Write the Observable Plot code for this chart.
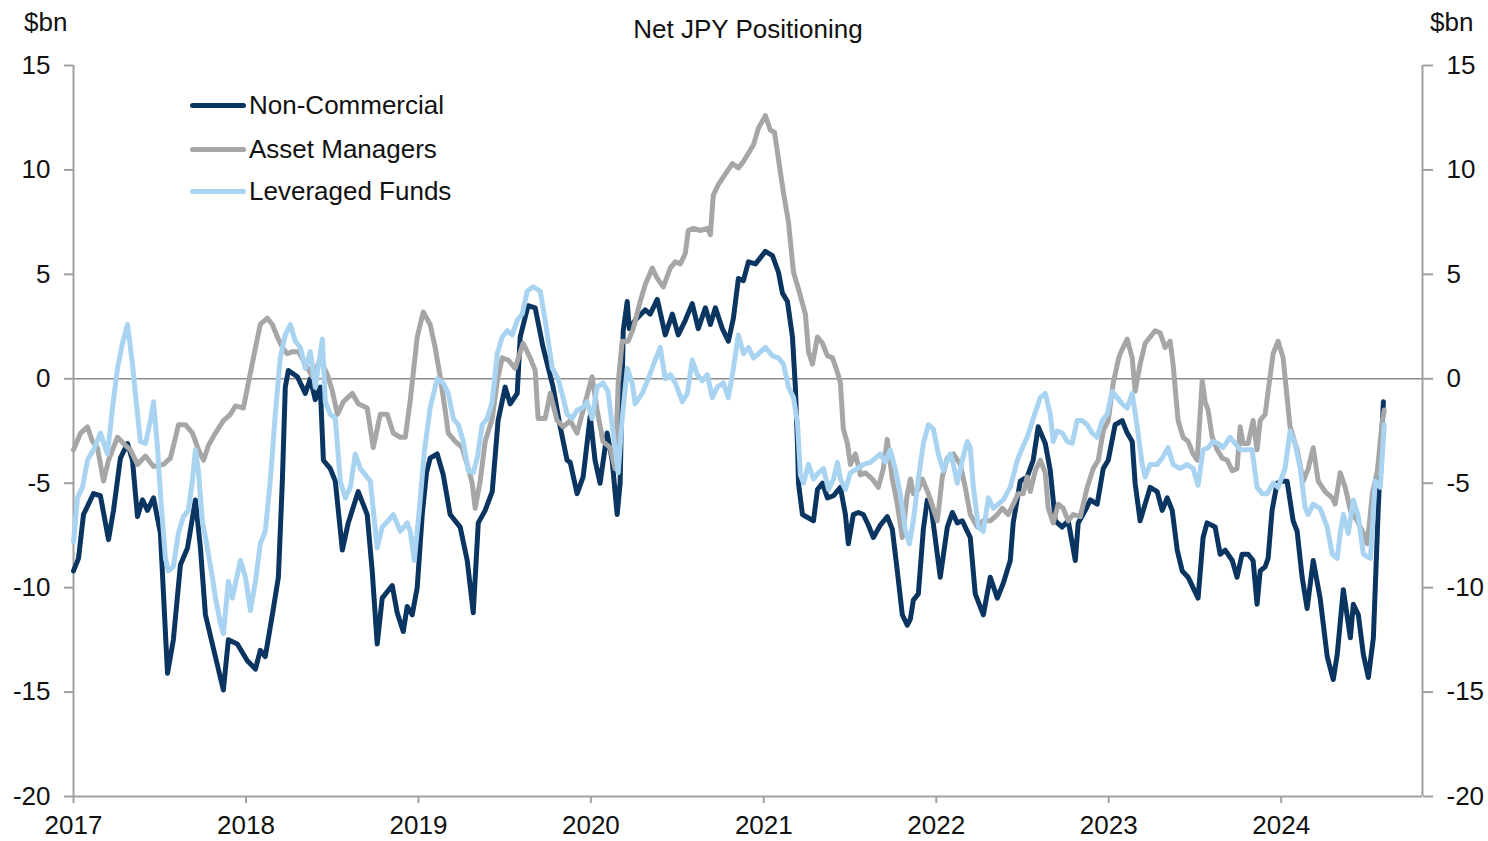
<!DOCTYPE html>
<html>
<head>
<meta charset="utf-8">
<script src="https://cdn.jsdelivr.net/npm/d3@7"></script>
<script src="https://cdn.jsdelivr.net/npm/@observablehq/plot@0.6"></script>
<style>
  body { margin: 0; background: #fff; font-family: "Liberation Sans", Arial, sans-serif; }
  #wrap { position: relative; width: 1488px; height: 841px; }
  .lbl { position: absolute; font-size: 26px; line-height: 26px; color: #111; white-space: nowrap; }
  .leg { position: absolute; display: flex; align-items: center; font-size: 26px; line-height: 26px; color: #111; white-space: nowrap; }
  .leg .sw { width: 56px; height: 5px; border-radius: 3px; margin-right: 3px; }
</style>
</head>
<body>
<div id="wrap"></div>
<script>
// ---------- chart values ----------
const chartTitle = "Net JPY Positioning";
const unitLabel = "$bn";
const seriesNames = ["Non-Commercial", "Asset Managers", "Leveraged Funds"];
const seriesColors = ["#0a3561", "#a6a6a6", "#a9d4f1"];
const yTicks = [-20, -15, -10, -5, 0, 5, 10, 15];
const yDomain = [-20, 15];
const xTickYears = [2017, 2018, 2019, 2020, 2021, 2022, 2023, 2024];
const xDomainYears = [2017.0, 2024.817];

// [decimal year, $bn]
const nonCommercial = [[2017.000,-9.2],[2017.029,-8.6],[2017.058,-6.5],[2017.116,-5.5],[2017.156,-5.6],[2017.203,-7.7],[2017.232,-6.3],[2017.272,-3.8],[2017.313,-3.1],[2017.342,-3.9],[2017.371,-6.6],[2017.400,-5.8],[2017.429,-6.3],[2017.464,-5.7],[2017.504,-7.4],[2017.545,-14.1],[2017.579,-12.5],[2017.620,-8.9],[2017.661,-8.1],[2017.707,-5.8],[2017.736,-8.1],[2017.765,-11.3],[2017.811,-12.9],[2017.869,-14.9],[2017.898,-12.5],[2017.950,-12.7],[2018.008,-13.5],[2018.055,-13.9],[2018.083,-13.0],[2018.112,-13.3],[2018.159,-11.0],[2018.188,-9.5],[2018.211,-4.9],[2018.228,-0.4],[2018.246,0.4],[2018.298,0.1],[2018.344,-0.7],[2018.373,0.0],[2018.402,-1.0],[2018.431,-0.4],[2018.449,-3.9],[2018.489,-4.3],[2018.518,-4.9],[2018.559,-8.2],[2018.593,-6.9],[2018.651,-5.4],[2018.703,-6.5],[2018.732,-9.2],[2018.761,-12.7],[2018.790,-10.5],[2018.848,-9.9],[2018.877,-11.2],[2018.912,-12.1],[2018.935,-10.9],[2018.964,-11.3],[2018.993,-10.0],[2019.022,-6.5],[2019.047,-4.5],[2019.068,-3.8],[2019.109,-3.6],[2019.144,-4.6],[2019.184,-6.5],[2019.242,-7.1],[2019.283,-8.7],[2019.318,-11.2],[2019.347,-6.9],[2019.387,-6.3],[2019.428,-5.4],[2019.462,-2.0],[2019.503,-0.4],[2019.532,-1.2],[2019.573,-0.7],[2019.590,2.0],[2019.636,3.5],[2019.677,3.4],[2019.723,1.5],[2019.781,-0.4],[2019.822,-2.3],[2019.862,-3.9],[2019.880,-4.0],[2019.920,-5.5],[2019.955,-4.7],[2019.996,-1.8],[2020.024,-3.9],[2020.053,-5.0],[2020.094,-2.6],[2020.123,-3.9],[2020.152,-6.5],[2020.169,-5.0],[2020.187,2.3],[2020.210,3.7],[2020.222,2.4],[2020.256,2.8],[2020.314,3.3],[2020.343,3.1],[2020.384,3.8],[2020.430,2.1],[2020.471,3.1],[2020.505,2.1],[2020.546,2.8],[2020.586,3.6],[2020.621,2.4],[2020.662,3.4],[2020.691,2.6],[2020.720,3.4],[2020.760,2.4],[2020.795,1.8],[2020.824,2.9],[2020.853,4.8],[2020.882,4.7],[2020.911,5.6],[2020.952,5.5],[2021.009,6.1],[2021.050,5.9],[2021.085,5.1],[2021.108,4.1],[2021.137,3.7],[2021.166,2.0],[2021.183,-0.4],[2021.195,-3.1],[2021.201,-5.0],[2021.224,-6.5],[2021.288,-6.8],[2021.311,-5.3],[2021.340,-5.0],[2021.369,-5.7],[2021.404,-5.6],[2021.444,-5.2],[2021.473,-6.5],[2021.490,-7.9],[2021.519,-6.5],[2021.548,-6.4],[2021.577,-6.5],[2021.606,-7.0],[2021.635,-7.6],[2021.676,-7.0],[2021.716,-6.6],[2021.745,-7.2],[2021.774,-9.2],[2021.803,-11.3],[2021.832,-11.8],[2021.850,-11.5],[2021.867,-10.6],[2021.896,-10.3],[2021.925,-7.2],[2021.948,-5.8],[2021.965,-5.8],[2022.023,-9.5],[2022.064,-7.1],[2022.093,-6.4],[2022.122,-6.9],[2022.151,-6.8],[2022.168,-7.1],[2022.197,-7.6],[2022.226,-10.3],[2022.273,-11.3],[2022.313,-9.5],[2022.354,-10.5],[2022.388,-9.8],[2022.429,-8.7],[2022.446,-6.9],[2022.487,-4.9],[2022.527,-4.7],[2022.562,-3.9],[2022.591,-2.3],[2022.632,-3.1],[2022.661,-4.4],[2022.690,-6.8],[2022.730,-7.1],[2022.765,-6.8],[2022.806,-8.7],[2022.823,-6.9],[2022.864,-6.3],[2022.893,-5.8],[2022.933,-6.0],[2022.968,-4.3],[2022.997,-3.9],[2023.037,-2.2],[2023.078,-2.0],[2023.107,-2.6],[2023.136,-3.0],[2023.153,-5.0],[2023.182,-6.8],[2023.211,-6.0],[2023.240,-5.2],[2023.281,-5.4],[2023.310,-6.3],[2023.339,-5.7],[2023.368,-6.3],[2023.397,-8.2],[2023.426,-9.2],[2023.460,-9.5],[2023.489,-10.0],[2023.518,-10.5],[2023.547,-7.6],[2023.570,-6.9],[2023.617,-7.1],[2023.646,-8.4],[2023.675,-8.2],[2023.716,-8.7],[2023.744,-9.5],[2023.773,-8.4],[2023.808,-8.4],[2023.837,-8.7],[2023.860,-10.8],[2023.878,-9.2],[2023.907,-9.0],[2023.924,-8.6],[2023.947,-6.3],[2023.976,-5.0],[2024.005,-4.9],[2024.034,-4.9],[2024.069,-6.8],[2024.092,-7.3],[2024.121,-9.5],[2024.150,-11.0],[2024.185,-8.7],[2024.225,-10.5],[2024.266,-13.3],[2024.301,-14.4],[2024.324,-13.2],[2024.359,-10.1],[2024.400,-12.4],[2024.417,-10.8],[2024.446,-11.3],[2024.475,-13.2],[2024.504,-14.3],[2024.533,-12.4],[2024.562,-6.0],[2024.591,-1.1]];

const assetManagers = [[2017.000,-3.4],[2017.041,-2.6],[2017.081,-2.3],[2017.110,-3.0],[2017.139,-3.3],[2017.174,-4.9],[2017.203,-3.9],[2017.255,-2.8],[2017.290,-3.1],[2017.330,-3.4],[2017.371,-4.1],[2017.417,-3.7],[2017.464,-4.2],[2017.522,-4.1],[2017.562,-3.8],[2017.609,-2.2],[2017.649,-2.2],[2017.690,-2.6],[2017.725,-3.4],[2017.754,-3.9],[2017.782,-3.2],[2017.823,-2.6],[2017.869,-2.0],[2017.910,-1.7],[2017.939,-1.3],[2017.985,-1.4],[2018.014,-0.2],[2018.043,1.0],[2018.083,2.6],[2018.124,2.9],[2018.153,2.6],[2018.182,2.0],[2018.211,1.5],[2018.240,1.2],[2018.269,1.3],[2018.304,1.3],[2018.344,0.7],[2018.385,0.1],[2018.431,0.9],[2018.472,0.2],[2018.501,-0.6],[2018.530,-1.7],[2018.565,-1.1],[2018.617,-0.7],[2018.651,-1.2],[2018.703,-1.4],[2018.738,-3.3],[2018.779,-1.7],[2018.819,-1.7],[2018.854,-2.6],[2018.895,-2.8],[2018.924,-2.8],[2018.953,-1.0],[2018.993,2.0],[2019.028,3.2],[2019.068,2.6],[2019.097,1.5],[2019.126,0.1],[2019.155,-1.5],[2019.173,-2.6],[2019.213,-3.0],[2019.254,-3.3],[2019.283,-4.1],[2019.312,-5.0],[2019.329,-6.2],[2019.358,-4.9],[2019.387,-3.0],[2019.428,-1.9],[2019.457,-0.1],[2019.486,1.0],[2019.520,0.9],[2019.561,0.5],[2019.607,1.7],[2019.648,1.0],[2019.677,0.4],[2019.694,-1.9],[2019.735,-1.9],[2019.764,-0.7],[2019.804,-2.0],[2019.839,-2.3],[2019.880,-2.0],[2019.920,-2.6],[2019.955,-1.5],[2020.007,0.1],[2020.036,-1.5],[2020.070,-3.0],[2020.111,-3.3],[2020.140,-4.3],[2020.158,-0.2],[2020.181,1.8],[2020.216,1.8],[2020.245,2.4],[2020.285,3.7],[2020.314,4.5],[2020.355,5.3],[2020.384,4.8],[2020.419,4.4],[2020.459,5.3],[2020.488,5.6],[2020.517,5.5],[2020.546,6.0],[2020.563,7.1],[2020.592,7.2],[2020.633,7.1],[2020.674,7.2],[2020.691,6.9],[2020.708,8.8],[2020.737,9.3],[2020.777,9.8],[2020.818,10.3],[2020.853,10.1],[2020.882,10.4],[2020.911,10.8],[2020.940,11.2],[2020.969,12.0],[2021.009,12.6],[2021.038,11.9],[2021.062,11.8],[2021.096,9.9],[2021.114,8.9],[2021.143,7.5],[2021.172,5.1],[2021.201,4.3],[2021.241,3.1],[2021.259,1.3],[2021.282,0.7],[2021.311,2.0],[2021.340,1.7],[2021.369,1.1],[2021.398,1.0],[2021.427,0.3],[2021.444,-0.2],[2021.461,-2.4],[2021.485,-3.1],[2021.502,-4.1],[2021.531,-3.6],[2021.560,-4.6],[2021.589,-4.5],[2021.629,-4.8],[2021.664,-5.2],[2021.693,-4.3],[2021.716,-2.9],[2021.745,-4.8],[2021.774,-6.0],[2021.803,-7.6],[2021.832,-5.5],[2021.850,-4.8],[2021.867,-5.5],[2021.896,-5.3],[2021.919,-4.8],[2021.954,-5.5],[2022.006,-6.8],[2022.035,-4.7],[2022.064,-3.8],[2022.099,-3.6],[2022.139,-4.1],[2022.168,-5.2],[2022.197,-6.5],[2022.238,-7.1],[2022.273,-6.8],[2022.313,-6.8],[2022.354,-6.5],[2022.383,-6.2],[2022.417,-6.5],[2022.446,-6.0],[2022.475,-5.5],[2022.504,-5.5],[2022.527,-4.7],[2022.545,-5.4],[2022.574,-4.4],[2022.603,-3.9],[2022.632,-4.5],[2022.649,-6.2],[2022.678,-6.9],[2022.707,-6.0],[2022.736,-6.2],[2022.765,-6.8],[2022.794,-6.5],[2022.835,-6.6],[2022.875,-5.2],[2022.910,-4.3],[2022.939,-3.9],[2022.968,-2.5],[2022.997,-2.0],[2023.026,-0.2],[2023.055,0.9],[2023.066,1.2],[2023.107,1.9],[2023.136,1.0],[2023.153,-0.6],[2023.182,0.7],[2023.211,1.7],[2023.240,2.0],[2023.269,2.3],[2023.298,2.2],[2023.327,1.5],[2023.356,1.8],[2023.373,0.7],[2023.402,-2.0],[2023.431,-2.8],[2023.460,-3.0],[2023.489,-3.6],[2023.513,-3.9],[2023.542,-0.1],[2023.559,-1.1],[2023.576,-1.5],[2023.600,-2.8],[2023.629,-3.4],[2023.658,-3.8],[2023.687,-3.9],[2023.716,-4.4],[2023.744,-4.3],[2023.762,-2.3],[2023.779,-3.1],[2023.808,-3.1],[2023.837,-2.0],[2023.860,-3.4],[2023.878,-2.0],[2023.907,-1.7],[2023.924,-0.6],[2023.953,1.2],[2023.982,1.8],[2024.011,1.0],[2024.051,-2.3],[2024.092,-3.4],[2024.127,-4.9],[2024.156,-4.3],[2024.185,-3.3],[2024.214,-4.9],[2024.254,-5.4],[2024.295,-5.7],[2024.312,-6.0],[2024.341,-4.5],[2024.370,-5.2],[2024.400,-6.3],[2024.440,-6.8],[2024.475,-7.4],[2024.498,-7.9],[2024.527,-5.5],[2024.556,-4.4],[2024.585,-2.0],[2024.596,-1.5]];

const leveragedFunds = [[2017.000,-7.8],[2017.023,-5.7],[2017.052,-5.2],[2017.081,-3.9],[2017.116,-3.4],[2017.156,-2.6],[2017.197,-3.6],[2017.226,-1.4],[2017.255,0.5],[2017.284,1.7],[2017.313,2.6],[2017.342,0.7],[2017.371,-1.7],[2017.388,-3.0],[2017.417,-3.1],[2017.446,-2.0],[2017.464,-1.1],[2017.487,-3.3],[2017.504,-5.5],[2017.533,-8.6],[2017.550,-9.2],[2017.579,-9.0],[2017.608,-7.4],[2017.637,-6.6],[2017.666,-6.3],[2017.689,-4.9],[2017.707,-3.4],[2017.724,-4.4],[2017.747,-6.8],[2017.776,-8.1],[2017.805,-9.5],[2017.823,-10.5],[2017.852,-11.7],[2017.869,-12.2],[2017.898,-9.7],[2017.921,-10.5],[2017.968,-8.7],[2017.997,-9.5],[2018.026,-11.1],[2018.055,-9.7],[2018.083,-7.9],[2018.112,-7.3],[2018.141,-4.9],[2018.170,-1.7],[2018.199,1.0],[2018.228,2.1],[2018.257,2.6],[2018.286,1.8],[2018.315,1.5],[2018.344,0.5],[2018.373,1.3],[2018.402,-0.4],[2018.443,1.9],[2018.460,-1.1],[2018.489,-1.7],[2018.518,-1.9],[2018.547,-4.9],[2018.576,-5.7],[2018.605,-5.2],[2018.634,-3.6],[2018.663,-4.3],[2018.692,-4.6],[2018.721,-4.9],[2018.761,-8.1],[2018.790,-7.1],[2018.825,-6.8],[2018.854,-6.5],[2018.895,-7.3],[2018.935,-6.9],[2018.953,-7.3],[2018.976,-8.7],[2019.005,-6.3],[2019.034,-3.5],[2019.068,-1.4],[2019.109,0.0],[2019.144,-0.2],[2019.173,-0.7],[2019.202,-1.9],[2019.231,-2.2],[2019.260,-3.0],[2019.289,-4.4],[2019.318,-4.5],[2019.341,-3.8],[2019.370,-2.2],[2019.399,-1.9],[2019.428,-1.1],[2019.457,1.2],[2019.486,2.0],[2019.515,2.3],[2019.544,2.1],[2019.573,2.8],[2019.602,3.1],[2019.631,4.2],[2019.666,4.4],[2019.706,4.2],[2019.735,2.8],[2019.776,0.5],[2019.810,0.0],[2019.839,-0.9],[2019.862,-1.7],[2019.891,-1.9],[2019.920,-1.5],[2019.949,-1.4],[2019.978,-1.1],[2020.007,-1.9],[2020.036,-0.4],[2020.070,-0.2],[2020.099,-0.6],[2020.129,-2.6],[2020.158,-4.5],[2020.181,-1.9],[2020.210,0.5],[2020.239,-0.2],[2020.256,-1.2],[2020.297,-0.7],[2020.332,0.0],[2020.372,0.9],[2020.401,1.5],[2020.430,0.0],[2020.459,0.2],[2020.488,-0.2],[2020.529,-1.1],[2020.558,-0.7],[2020.586,0.9],[2020.615,0.2],[2020.644,-0.1],[2020.673,0.2],[2020.702,-0.9],[2020.731,-0.4],[2020.766,-0.2],[2020.795,-0.9],[2020.824,0.5],[2020.853,2.1],[2020.882,1.2],[2020.911,1.5],[2020.940,1.0],[2020.969,1.2],[2021.009,1.5],[2021.050,1.1],[2021.085,1.0],[2021.114,0.7],[2021.143,-0.4],[2021.172,-0.9],[2021.195,-2.1],[2021.212,-4.6],[2021.230,-5.0],[2021.259,-4.1],[2021.288,-4.8],[2021.317,-4.5],[2021.346,-4.3],[2021.375,-5.3],[2021.404,-4.8],[2021.427,-4.0],[2021.444,-4.8],[2021.473,-5.3],[2021.502,-4.5],[2021.542,-4.3],[2021.577,-4.1],[2021.618,-4.0],[2021.647,-3.8],[2021.676,-3.6],[2021.705,-4.0],[2021.733,-3.4],[2021.762,-4.3],[2021.791,-5.5],[2021.820,-7.2],[2021.844,-7.9],[2021.867,-6.8],[2021.896,-4.8],[2021.925,-3.1],[2021.954,-2.2],[2021.983,-2.4],[2022.012,-3.6],[2022.041,-4.4],[2022.052,-4.1],[2022.081,-3.6],[2022.099,-4.1],[2022.122,-5.0],[2022.151,-3.9],[2022.180,-3.0],[2022.197,-3.3],[2022.215,-5.2],[2022.244,-7.1],[2022.273,-7.3],[2022.302,-5.7],[2022.331,-6.2],[2022.359,-6.0],[2022.388,-5.8],[2022.429,-5.2],[2022.470,-3.9],[2022.499,-3.3],[2022.527,-2.8],[2022.562,-1.9],[2022.603,-0.9],[2022.632,-0.7],[2022.661,-1.7],[2022.678,-3.0],[2022.701,-2.5],[2022.730,-2.6],[2022.759,-3.0],[2022.788,-3.1],[2022.817,-2.0],[2022.846,-2.0],[2022.875,-2.2],[2022.904,-2.6],[2022.933,-2.8],[2022.962,-2.0],[2022.991,-1.7],[2023.020,-0.6],[2023.049,-0.9],[2023.078,-1.2],[2023.107,-1.4],[2023.136,-0.7],[2023.165,-2.3],[2023.194,-4.1],[2023.211,-4.7],[2023.240,-4.1],[2023.281,-4.1],[2023.310,-3.8],[2023.344,-3.3],[2023.373,-4.1],[2023.414,-4.3],[2023.455,-4.1],[2023.489,-4.3],[2023.518,-5.1],[2023.547,-3.4],[2023.576,-3.3],[2023.605,-3.0],[2023.634,-3.1],[2023.663,-3.3],[2023.704,-2.8],[2023.733,-3.1],[2023.762,-3.4],[2023.802,-3.4],[2023.831,-3.4],[2023.860,-5.2],[2023.889,-5.5],[2023.918,-5.5],[2023.953,-5.0],[2023.982,-5.2],[2024.022,-4.3],[2024.051,-2.5],[2024.080,-3.1],[2024.110,-4.3],[2024.139,-6.2],[2024.156,-6.5],[2024.185,-6.0],[2024.225,-6.2],[2024.266,-7.1],[2024.295,-8.4],[2024.324,-8.6],[2024.341,-7.4],[2024.359,-6.5],[2024.388,-7.4],[2024.417,-5.8],[2024.446,-6.6],[2024.475,-8.4],[2024.516,-8.6],[2024.544,-4.9],[2024.573,-5.2],[2024.596,-2.2]];

// ---------- helpers ----------
function yearToDate(t) {
  const y = Math.floor(t);
  const a = Date.UTC(y, 0, 1), b = Date.UTC(y + 1, 0, 1);
  return new Date(a + (t - y) * (b - a));
}
const seriesData = [nonCommercial, assetManagers, leveragedFunds];
const rows = seriesData.flatMap((s, i) => s.map(([t, v]) => ({date: yearToDate(t), value: v, series: seriesNames[i]})));
const xDomain = xDomainYears.map(yearToDate);
const xTicks = xTickYears.map(y => new Date(Date.UTC(y, 0, 1)));
const axisGray = "#a0a0a0";
const fs = 26;

const chart = Plot.plot({
  width: 1488,
  height: 841,
  marginLeft: 73,
  marginRight: 66,
  marginTop: 65,
  marginBottom: 45,
  style: {fontFamily: "'Liberation Sans', Arial, sans-serif", fontSize: fs + "px", color: "#111", background: "#fff", overflow: "visible"},
  x: {type: "utc", domain: xDomain},
  y: {domain: yDomain},
  marks: [
    Plot.ruleY([0], {stroke: "#8c8c8c", strokeWidth: 1.5}),
    Plot.ruleX(xDomain, {y1: yDomain[0], y2: yDomain[1], stroke: axisGray, strokeWidth: 2}),
    Plot.ruleY([yDomain[0]], {stroke: axisGray, strokeWidth: 2}),
    Plot.axisY(yTicks, {anchor: "left", tickSize: 9, tickPadding: 14, stroke: axisGray, fill: "#111", strokeWidth: 2, tickFormat: d => String(d), label: null, fontSize: fs}),
    Plot.axisY(yTicks, {anchor: "right", tickSize: 10, tickPadding: 14, stroke: axisGray, fill: "#111", strokeWidth: 2, tickFormat: d => String(d), label: null, fontSize: fs}),
    Plot.axisX(xTicks, {anchor: "bottom", tickSize: 7, tickPadding: 12, stroke: axisGray, fill: "#111", strokeWidth: 2, tickFormat: d => String(d.getUTCFullYear()), label: null, fontSize: fs}),
    ...seriesNames.map((name, i) =>
      Plot.line(rows.filter(r => r.series === name), {
        x: "date", y: "value", stroke: seriesColors[i], strokeWidth: 5,
        strokeLinejoin: "round", strokeLinecap: "round"
      })
    )
  ]
});

const wrap = document.getElementById("wrap");
wrap.appendChild(chart);

function addLabel(text, left, top, extra) {
  const d = document.createElement("div");
  d.className = "lbl";
  d.textContent = text;
  d.style.left = left + "px";
  d.style.top = top + "px";
  if (extra) Object.assign(d.style, extra);
  wrap.appendChild(d);
}
addLabel(chartTitle, 748, 16, {transform: "translateX(-50%)"});
addLabel(unitLabel, 24, 9);
addLabel(unitLabel, 1430, 9);

seriesNames.forEach((name, i) => {
  const row = document.createElement("div");
  row.className = "leg";
  row.style.left = "190px";
  row.style.top = [92, 136, 178][i] + "px";
  row.style.height = "26px";
  const sw = document.createElement("span");
  sw.className = "sw";
  sw.style.background = seriesColors[i];
  const tx = document.createElement("span");
  tx.textContent = name;
  row.appendChild(sw);
  row.appendChild(tx);
  wrap.appendChild(row);
});
</script>
</body>
</html>
